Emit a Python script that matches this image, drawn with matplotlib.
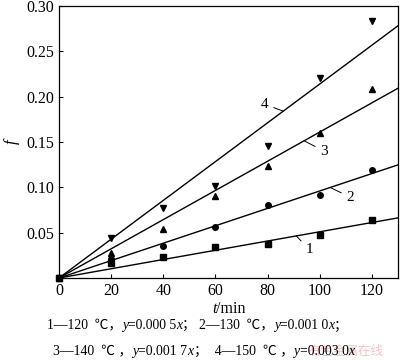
import matplotlib
matplotlib.use('Agg')
import matplotlib.pyplot as plt

# measured points, f vs t/min
t = [0, 20, 40, 60, 80, 100, 120]
f_120 = [0, 0.017, 0.0235, 0.034, 0.038, 0.047, 0.064]
f_130 = [0, 0.021, 0.035, 0.056, 0.080, 0.091, 0.119]
f_140 = [0, 0.028, 0.054, 0.090, 0.123, 0.160, 0.208]
f_150 = [0, 0.044, 0.077, 0.101, 0.146, 0.221, 0.283]

# slopes of the drawn fit lines
slopes = [0.00051, 0.00096, 0.00161, 0.00214]
line_labels = ['1', '2', '3', '4']
line_x = [0, 130]

serif = ['Liberation Serif', 'Noto Sans CJK SC']
plt.rcParams['font.family'] = serif

fig = plt.figure(figsize=(4, 3.6), dpi=100)
ax = fig.add_axes([59 / 400, 1 - 278 / 360, 339 / 400, 272 / 360])

markers = ['s', 'o', '^', 'v']
for ys, m in zip([f_120, f_130, f_140, f_150], markers):
    ax.plot(t, ys, linestyle='none', marker=m, color='black', markersize=4, clip_on=False, zorder=3)

for k in slopes:
    ax.plot(line_x, [k * x for x in line_x], color='black', lw=1.0)

# curve numbers with short leader lines
label_at = [91, 104, 94, 86]
offsets = [(9.5, -10), (14.5, -7), (14.5, -7.5), (-13.5, 5)]
for k, lab, xa, off in zip(slopes, line_labels, label_at, offsets):
    ax.annotate(lab, xy=(xa, k * xa), xytext=off, textcoords='offset points',
                ha='center', va='center', fontsize=11,
                arrowprops=dict(arrowstyle='-', lw=0.7, color='black', shrinkA=2, shrinkB=0))

ax.set_xlim(0, 130)
ax.set_ylim(0, 0.30)
ax.set_xticks([0, 20, 40, 60, 80, 100, 120])
ax.set_yticks([0.05, 0.10, 0.15, 0.20, 0.25, 0.30])
ax.set_yticklabels(['0.05', '0.10', '0.15', '0.20', '0.25', '0.30'])
ax.tick_params(direction='in', length=3, width=0.8, labelsize=11.5, pad=3.5)
for s in ax.spines.values():
    s.set_linewidth(0.9)

ax.set_ylabel('f', style='italic', fontsize=12)
ax.yaxis.set_label_coords(-0.115, 0.5)

renderer = fig.canvas.get_renderer()


def put_runs(x_px, base_px, runs, size):
    # write pieces one after another on a common baseline
    x = x_px / 400
    for s, it in runs:
        txt = fig.text(x, 1 - base_px / 360, s, fontsize=size, family=serif,
                       style='italic' if it else 'normal', va='baseline', ha='left')
        x += txt.get_window_extent(renderer).width / fig.bbox.width


put_runs(212, 313, [('t', True), ('/min', False)], 11.5)
put_runs(47, 329, [('1—120  ℃，', False), ('y', True), ('=0.000 5', False), ('x', True),
                   ('； 2—130  ℃，', False), ('y', True), ('=0.001 0', False), ('x', True),
                   ('；', False)], 9.8)
put_runs(53, 355, [('3—140  ℃ ，', False), ('y', True), ('=0.001 7', False), ('x', True),
                   ('；  4—150  ℃ ，', False), ('y', True), ('=0.003 0', False), ('x', True)], 9.9)

fig.text(0.77, 1 - 355 / 360, '有色金属在线', fontsize=9, color='#f3c4c4',
         family=['Noto Sans CJK SC'], va='baseline', zorder=0)

fig.savefig('out.png', dpi=100)
